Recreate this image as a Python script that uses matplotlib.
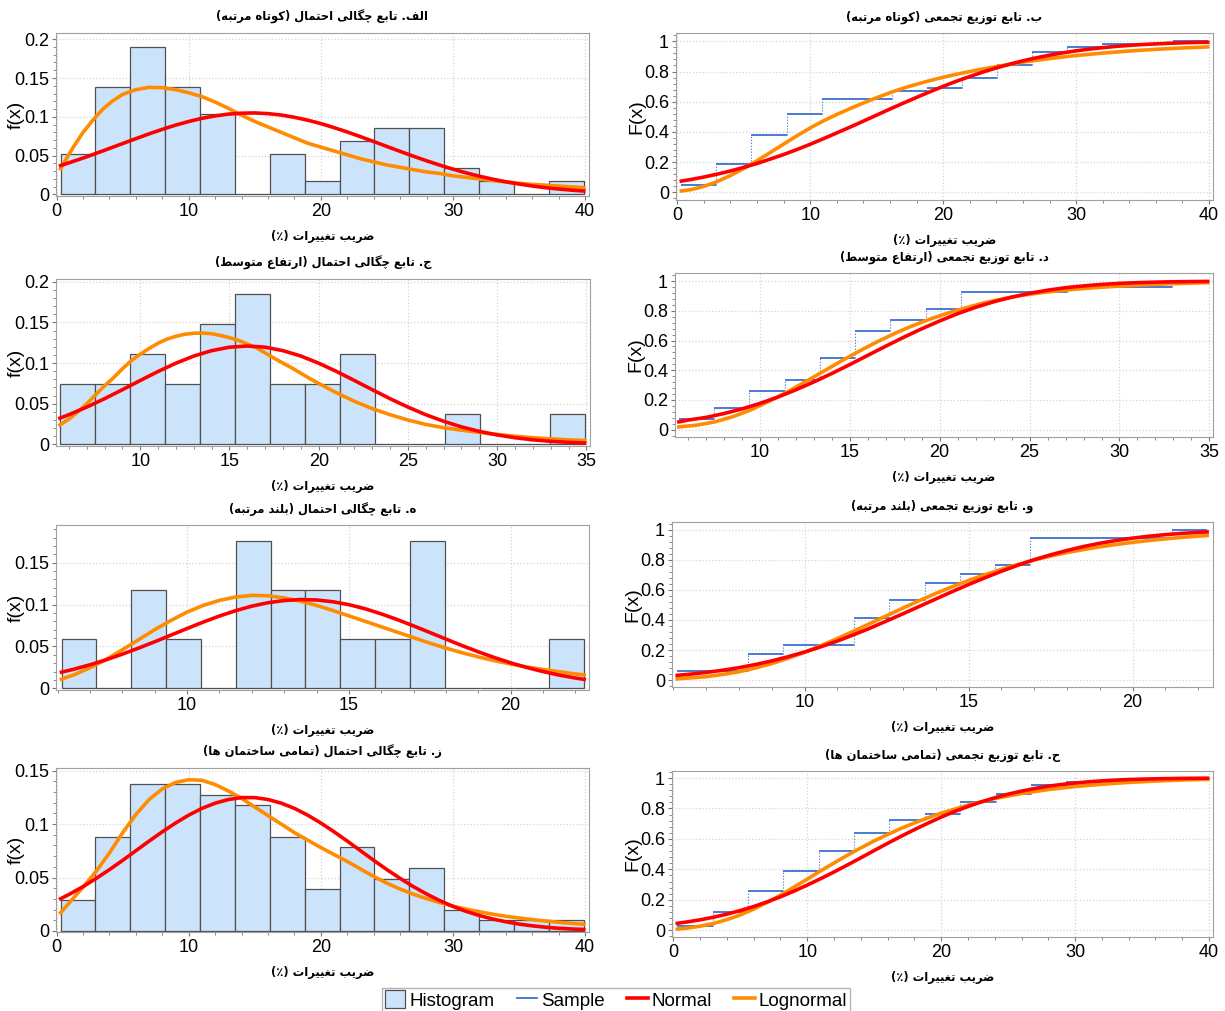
import numpy as np
import matplotlib
matplotlib.use("Agg")
import matplotlib.pyplot as plt
from matplotlib.patches import Patch
from matplotlib.lines import Line2D
from matplotlib.ticker import MultipleLocator, AutoMinorLocator, FuncFormatter

# ---- histogram counts (15 equal bins per group) ----
counts_short = [3, 8, 11, 8, 6, 0, 3, 1, 4, 5, 5, 2, 1, 0, 1]
range_short = (0.3, 39.9)
counts_mid = [2, 2, 3, 2, 4, 5, 2, 2, 3, 0, 0, 1, 0, 0, 1]
range_mid = (5.5, 34.9)
counts_high = [1, 0, 2, 1, 0, 3, 2, 2, 1, 1, 3, 0, 0, 0, 1]
range_high = (6.12, 22.27)
counts_all = [3, 9, 14, 14, 13, 12, 9, 4, 8, 5, 6, 2, 1, 1, 1]
range_all = (0.3, 39.9)

# ---- fitted curves ----
x_grid40 = [0.3] + list(range(1, 40)) + [39.9]

norm_pdf_short = [.0373, .0411, .0469, .0530, .0593, .0656, .0719, .0781, .0839, .0893, .0940,
                  .0981, .1012, .1035, .1047, .1050, .1041, .1023, .0994, .0957, .0913, .0861,
                  .0805, .0744, .0682, .0618, .0555, .0493, .0434, .0378, .0326, .0278, .0235,
                  .0197, .0163, .0134, .0109, .0087, .0070, .0055, .0044]
logn_pdf_short_x = [0.3, 0.8, 1.3, 2, 2.8, 3.5, 4.2, 5, 6, 7, 8, 9, 10, 11, 12, 13, 14, 15, 16, 17,
                    18, 19, 20, 21, 22, 23, 24, 25, 26, 27, 28, 29, 30, 31, 32, 33, 34, 35, 36, 37,
                    38, 39, 39.9]
logn_pdf_short = [.033, .048, .062, .080, .097, .110, .120, .129, .135, .138, .1375, .135, .131,
                  .126, .119, .111, .102, .094, .087, .080, .073, .066, .061, .056, .051, .046,
                  .042, .038, .035, .032, .029, .027, .024, .022, .020, .018, .016, .0145, .013,
                  .012, .0108, .0097, .0088]
norm_cdf_short = [.075, .0853, .102, .121, .142, .166, .192, .221, .251, .284, .319, .356, .394,
                  .4325, .472, .512, .552, .591, .629, .666, .702, .736, .767, .797, .824, .8485,
                  .871, .8907, .908, .9236, .937, .9484, .958, .9664, .973, .9788, .983, .9871,
                  .990, .9925, .9935]
logn_cdf_short_x = [0.3, 1, 2, 3, 4, 5, 6, 7, 8, 9, 10, 11, 12, 13, 14, 15, 16, 17, 18, 19, 20,
                    21, 22, 23, 24, 26, 28, 30, 32, 34, 36, 38, 39.9]
logn_cdf_short = [.010, .018, .040, .072, .112, .158, .210, .265, .320, .375, .427, .474, .516,
                  .555, .592, .627, .660, .690, .716, .740, .762, .782, .800, .817, .833, .862,
                  .886, .906, .922, .936, .947, .956, .963]

norm_mid_x = [5.5, 6, 7, 8, 9, 10, 11, 12, 13, 14, 15, 16, 17, 18, 19, 20, 21, 22, 23, 24, 25,
              26, 27, 28, 29, 30, 31, 32, 33, 34, 34.9]
norm_pdf_mid = [.0323, .0365, .0459, .0562, .0673, .0786, .0897, .0999, .1087, .1153, .1196,
                .1210, .1196, .1153, .1087, .0999, .0897, .0786, .0673, .0562, .0459, .0365,
                .0284, .0215, .0160, .0116, .0082, .0056, .0038, .0025, .0017]
norm_cdf_mid = [.052, .064, .0818, .108, .139, .176, .219, .268, .321, .378, .438, .500, .562,
                .622, .679, .732, .781, .824, .861, .892, .918, .939, .956, .968, .978, .985,
                .990, .9934, .9958, .9973, .9984]
logn_pdf_mid_x = [5.5, 6, 6.5, 7, 7.5, 8, 8.5, 9, 9.5, 10, 10.5, 11, 11.5, 12, 12.5, 13, 13.5, 14,
                  14.5, 15, 15.5, 16, 16.5, 17, 17.5, 18, 18.5, 19, 19.5, 20, 21, 22, 23, 24, 25,
                  26, 27, 28, 29, 30, 31, 32, 33, 34, 34.9]
logn_pdf_mid = [.024, .031, .040, .050, .061, .072, .082, .093, .103, .111, .118, .1245, .1295,
                .133, .1355, .1368, .137, .1362, .134, .1313, .128, .1235, .119, .1125, .106,
                .100, .094, .0875, .081, .075, .0635, .053, .044, .0365, .030, .0245, .0205,
                .0175, .0147, .0122, .0100, .0082, .0068, .0056, .0048]
logn_cdf_mid_x = [5.5, 6.5, 7.5, 8.5, 9.5, 10.5, 11.5, 12.5, 13.5, 14.5, 15.5, 16.5, 17.5, 18.5,
                  19.5, 20.5, 21.5, 22.5, 23.5, 24.5, 25.5, 26.5, 27.5, 28.5, 29.5, 30.5, 31.5,
                  32.5, 33.5, 34.9]
logn_cdf_mid = [.018, .030, .052, .087, .133, .190, .252, .320, .390, .460, .527, .590, .648,
                .700, .746, .787, .822, .855, .881, .903, .920, .934, .945, .955, .963, .970,
                .976, .981, .985, .990]

x_high = [6.12, 6.5, 7, 7.5, 8, 8.5, 9, 9.5, 10, 10.5, 11, 11.5, 12, 12.5, 13, 13.5, 14, 14.5, 15,
          15.5, 16, 16.5, 17, 17.5, 18, 18.5, 19, 19.5, 20, 20.5, 21, 21.5, 22, 22.27]
norm_pdf_high = [.0193, .0228, .0281, .0341, .0408, .0480, .0556, .0635, .0714, .0791, .0863,
                 .0927, .0981, .1022, .1048, .1060, .1055, .1034, .0999, .0950, .0889, .0820,
                 .0745, .0667, .0588, .0510, .0436, .0367, .0304, .0248, .0200, .0158, .0123, .0107]
logn_pdf_high = [.011, .016, .0245, .0345, .046, .058, .070, .081, .091, .099, .105, .109, .111,
                 .1105, .108, .104, .099, .093, .0865, .080, .0735, .067, .0605, .054, .048,
                 .0425, .0375, .033, .029, .0255, .0225, .0198, .0172, .016]
norm_cdf_high = [.0324, .0398, .0516, .066, .0833, .104, .128, .156, .187, .222, .260, .302, .346,
                 .393, .441, .490, .539, .588, .635, .680, .723, .763, .800, .832, .861, .887,
                 .909, .9274, .943, .9558, .966, .9745, .981, .984]
logn_cdf_high = [.009, .015, .0235, .038, .056, .081, .110, .146, .185, .230, .2765, .326, .377,
                 .428, .479, .528, .576, .620, .662, .700, .736, .768, .798, .824, .847, .867,
                 .885, .901, .915, .927, .938, .948, .956, .960]

norm_pdf_all = [.0301, .0346, .0415, .0492, .0574, .0661, .0751, .0841, .0928, .1010, .1084,
                .1147, .1196, .1230, .1248, .1248, .1230, .1196, .1147, .1084, .1010, .0928,
                .0841, .0751, .0661, .0574, .0492, .0415, .0346, .0284, .0230, .0183, .0144,
                .0112, .0086, .0064, .0048, .0035, .0025, .0018, .0014]
logn_pdf_all = [.017, .027, .041, .056, .073, .092, .109, .123, .133, .139, .1415, .141, .137,
                .131, .124, .116, .108, .100, .092, .085, .078, .0715, .065, .058, .051, .0447,
                .0392, .0344, .0302, .0265, .0232, .0204, .0179, .0157, .0137, .0121, .0106,
                .0093, .0081, .0071, .0063]
norm_cdf_all = [.0459, .0545, .0688, .086, .106, .1297, .156, .1865, .220, .257, .297, .339, .383,
                .429, .476, .524, .571, .617, .661, .703, .743, .780, .813, .8436, .870, .8938,
                .914, .9312, .946, .9575, .967, .975, .981, .986, .990, .9926, .9947, .9962,
                .9974, .9982, .9986]
logn_cdf_all_x = [0.3, 1, 2, 3, 4, 5, 6, 7, 8, 9, 10, 11, 12, 13, 14, 15, 16, 17, 18, 19, 20,
                  22, 24, 26, 28, 30, 32, 34, 36, 38, 39.9]
logn_cdf_all = [.008, .014, .027, .045, .070, .101, .139, .183, .231, .283, .336, .390, .442,
                .493, .541, .587, .629, .669, .705, .738, .769, .822, .865, .898, .924, .944,
                .959, .971, .980, .987, .991]

titles = [
    "الف. تابع چگالی احتمال (کوتاه مرتبه)",
    "ب. تابع توزیع تجمعی (کوتاه مرتبه)",
    "ج. تابع چگالی احتمال (ارتفاع متوسط)",
    "د. تابع توزیع تجمعی (ارتفاع متوسط)",
    "ه. تابع چگالی احتمال (بلند مرتبه)",
    "و. تابع توزیع تجمعی (بلند مرتبه)",
    "ز. تابع چگالی احتمال (تمامی ساختمان ها)",
    "ح. تابع توزیع تجمعی (تمامی ساختمان ها)",
]
xlabel_text = "ضریب تغییرات (٪)"

BAR_FACE = "#cce4fb"
BAR_EDGE = "#505050"
C_NORM = "#ff0000"
C_LOGN = "#ff8c00"
C_SAMPLE = "#3a6fd0"

# ---- minimal Persian shaping (matplotlib has no text shaping) ----
FORMS = {
    "\u0627": (0xFE8D, 0xFE8E), "\u0628": (0xFE8F, 0xFE90, 0xFE91, 0xFE92),
    "\u062A": (0xFE95, 0xFE96, 0xFE97, 0xFE98), "\u062C": (0xFE9D, 0xFE9E, 0xFE9F, 0xFEA0),
    "\u062D": (0xFEA1, 0xFEA2, 0xFEA3, 0xFEA4), "\u062E": (0xFEA5, 0xFEA6, 0xFEA7, 0xFEA8),
    "\u062F": (0xFEA9, 0xFEAA), "\u0631": (0xFEAD, 0xFEAE), "\u0632": (0xFEAF, 0xFEB0),
    "\u0633": (0xFEB1, 0xFEB2, 0xFEB3, 0xFEB4), "\u0636": (0xFEBD, 0xFEBE, 0xFEBF, 0xFEC0),
    "\u0637": (0xFEC1, 0xFEC2, 0xFEC3, 0xFEC4), "\u0639": (0xFEC9, 0xFECA, 0xFECB, 0xFECC),
    "\u063A": (0xFECD, 0xFECE, 0xFECF, 0xFED0), "\u0641": (0xFED1, 0xFED2, 0xFED3, 0xFED4),
    "\u0644": (0xFEDD, 0xFEDE, 0xFEDF, 0xFEE0), "\u0645": (0xFEE1, 0xFEE2, 0xFEE3, 0xFEE4),
    "\u0646": (0xFEE5, 0xFEE6, 0xFEE7, 0xFEE8), "\u0647": (0xFEE9, 0xFEEA, 0xFEEB, 0xFEEC),
    "\u0648": (0xFEED, 0xFEEE), "\u06A9": (0xFB8E, 0xFB8F, 0xFB90, 0xFB91),
    "\u06AF": (0xFB92, 0xFB93, 0xFB94, 0xFB95), "\u0686": (0xFB7A, 0xFB7B, 0xFB7C, 0xFB7D),
    "\u06CC": (0xFBFC, 0xFBFD, 0xFBFE, 0xFBFF),
}


def fa(text):
    text = text.replace("\u064A", "\u06CC").replace("\u0649", "\u06CC").replace("\u0643", "\u06A9")
    out = []
    for i, ch in enumerate(text):
        f = FORMS.get(ch)
        if f is None:
            out.append(ch)
            continue
        prev = text[i - 1] if i > 0 else ""
        nxt = text[i + 1] if i + 1 < len(text) else ""
        jp = prev in FORMS and len(FORMS[prev]) == 4
        jn = len(f) == 4 and nxt in FORMS
        if jp and jn:
            out.append(chr(f[3]))
        elif jp:
            out.append(chr(f[1]))
        elif jn:
            out.append(chr(f[2]))
        else:
            out.append(chr(f[0]))
    return "".join(out)[::-1].translate(str.maketrans("()", ")("))


W, H = 1225, 1011
fig = plt.figure(figsize=(W / 100, H / 100), dpi=100)
plt.rcParams["font.family"] = ["Liberation Sans", "DejaVu Sans"]


def add_ax(l, t, r, b):
    return fig.add_axes([l / W, 1 - b / H, (r - l) / W, (b - t) / H])


def style(ax, title, xlim, ylim, xstep, ystep, ylab, ylab_x):
    ax.set_xlim(*xlim)
    ax.set_ylim(*ylim)
    ax.xaxis.set_major_locator(MultipleLocator(xstep))
    ax.yaxis.set_major_locator(MultipleLocator(ystep))
    ax.xaxis.set_minor_locator(AutoMinorLocator(5))
    ax.yaxis.set_minor_locator(AutoMinorLocator(5))
    ax.yaxis.set_major_formatter(FuncFormatter(lambda v, p: "%g" % round(v, 3)))
    ax.tick_params(which="both", direction="out", color="#777777", labelsize=13, pad=2)
    ax.tick_params(which="major", length=3)
    ax.tick_params(which="minor", length=2)
    for s in ax.spines.values():
        s.set_color("#a0a0a0")
    ax.grid(True, which="major", color="#d5d5d5", linestyle=":", linewidth=0.9)
    ax.set_axisbelow(True)
    ax.set_title(fa(title), fontsize=8.3, fontweight="bold", family="DejaVu Sans", pad=9)
    ax.set_xlabel(fa(xlabel_text), fontsize=8.3, fontweight="bold", family="DejaVu Sans",
                  labelpad=7)
    ax.set_ylabel(ylab, fontsize=14)
    ax.yaxis.set_label_coords(ylab_x, 0.5)


def draw_pdf(ax, counts, rng, nx, ny, lx, ly):
    counts = np.asarray(counts, float)
    edges = np.linspace(rng[0], rng[1], len(counts) + 1)
    ax.bar(edges[:-1], counts / counts.sum(), width=np.diff(edges), align="edge",
           color=BAR_FACE, edgecolor=BAR_EDGE, linewidth=0.9, zorder=2)
    ax.plot(nx, ny, color=C_NORM, lw=2.6, zorder=4)
    ax.plot(lx, ly, color=C_LOGN, lw=2.6, zorder=3)


def draw_cdf(ax, counts, rng, nx, ny, lx, ly):
    counts = np.asarray(counts, float)
    edges = np.linspace(rng[0], rng[1], len(counts) + 1)
    levels = np.cumsum(counts) / counts.sum()
    ax.hlines(levels, edges[:-1], edges[1:], color=C_SAMPLE, lw=1.3, zorder=2)
    ax.vlines(edges[1:-1], levels[:-1], levels[1:], color=C_SAMPLE, lw=0.8,
              linestyles=":", zorder=2)
    ax.plot(lx, ly, color=C_LOGN, lw=2.6, zorder=3)
    ax.plot(nx, ny, color=C_NORM, lw=2.6, zorder=4)


LY_L, LY_R = -0.058, -0.057

# row 1: short-rise
ax = add_ax(56, 33, 589, 196)
draw_pdf(ax, counts_short, range_short, x_grid40, norm_pdf_short, logn_pdf_short_x, logn_pdf_short)
style(ax, titles[0], (-0.05, 40.3), (-0.002, 0.208), 10, 0.05, "f(x)", LY_L)
ax = add_ax(676, 33, 1213, 200)
draw_cdf(ax, counts_short, range_short, x_grid40, norm_cdf_short, logn_cdf_short_x, logn_cdf_short)
style(ax, titles[1], (-0.1, 40.3), (-0.05, 1.055), 10, 0.2, "F(x)", LY_R)

# row 2: mid-rise
ax = add_ax(56, 279, 590, 446)
draw_pdf(ax, counts_mid, range_mid, norm_mid_x, norm_pdf_mid, logn_pdf_mid_x, logn_pdf_mid)
style(ax, titles[2], (5.28, 35.2), (-0.002, 0.2035), 5, 0.05, "f(x)", LY_L)
ax = add_ax(675, 273, 1213, 437)
draw_cdf(ax, counts_mid, range_mid, norm_mid_x, norm_cdf_mid, logn_cdf_mid_x, logn_cdf_mid)
style(ax, titles[3], (5.28, 35.2), (-0.05, 1.055), 5, 0.2, "F(x)", LY_R)

# row 3: high-rise
ax = add_ax(56, 525, 589, 690)
draw_pdf(ax, counts_high, range_high, x_high, norm_pdf_high, x_high, logn_pdf_high)
style(ax, titles[4], (5.95, 22.42), (-0.002, 0.195), 5, 0.05, "f(x)", LY_L)
ax = add_ax(672, 522, 1213, 687)
draw_cdf(ax, counts_high, range_high, x_high, norm_cdf_high, x_high, logn_cdf_high)
style(ax, titles[5], (5.96, 22.45), (-0.045, 1.05), 5, 0.2, "F(x)", LY_R)

# row 4: all buildings
ax = add_ax(56, 768, 589, 932)
draw_pdf(ax, counts_all, range_all, x_grid40, norm_pdf_all, x_grid40, logn_pdf_all)
style(ax, titles[6], (-0.05, 40.3), (-0.001, 0.1525), 10, 0.05, "f(x)", LY_L)
ax = add_ax(672, 771, 1213, 937)
draw_cdf(ax, counts_all, range_all, x_grid40, norm_cdf_all, logn_cdf_all_x, logn_cdf_all)
style(ax, titles[7], (-0.1, 40.3), (-0.044, 1.046), 10, 0.2, "F(x)", LY_R)

handles = [
    Patch(facecolor=BAR_FACE, edgecolor=BAR_EDGE, linewidth=0.9),
    Line2D([], [], color=C_SAMPLE, lw=1.3),
    Line2D([], [], color=C_NORM, lw=2.6),
    Line2D([], [], color=C_LOGN, lw=2.6),
]
leg = fig.legend(handles, ["Histogram", "Sample", "Normal", "Lognormal"], ncol=4,
                 loc="center", bbox_to_anchor=(616 / W, 1 - 1000 / H), fontsize=13.5,
                 frameon=True, fancybox=False, edgecolor="#a0a0a0", handlelength=1.1,
                 handleheight=1.1, handletextpad=0.2, columnspacing=1.2, borderpad=0.15)
leg.get_frame().set_linewidth(1.0)

fig.savefig("out.png", dpi=100)
